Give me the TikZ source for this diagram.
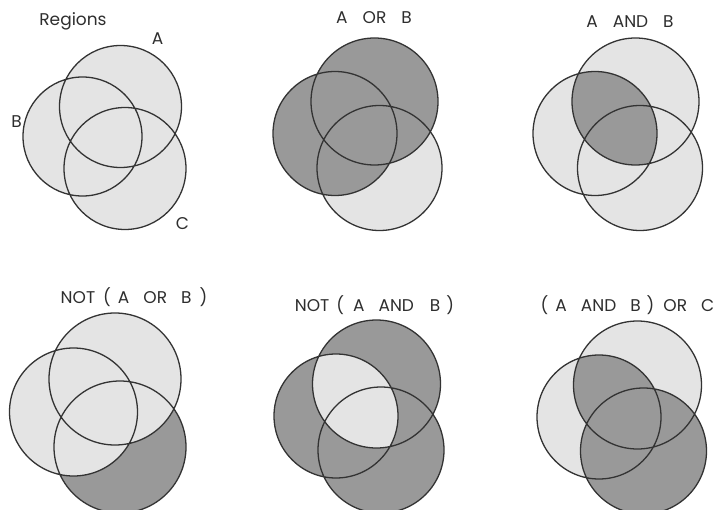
\documentclass[tikz,border=0pt]{standalone}
\usepackage{fontspec}
\setmainfont{Poppins}
\definecolor{lightg}{HTML}{E4E4E4}
\definecolor{darkg}{HTML}{999999}
\definecolor{edge}{HTML}{333333}
\definecolor{txt}{HTML}{2E2E2E}
\newcommand\gp[1]{\hspace{#1pt}}
\tikzset{
  outline/.style={draw=edge, line width=1.3pt, fill=none},
  lbl/.style={text=txt, font=\fontsize{17}{19}\selectfont, anchor=base, inner sep=0pt},
}
\begin{document}
\begin{tikzpicture}[x=1pt,y=-1pt]
\useasboundingbox (0,0) rectangle (722,510);
% ---------- Diagram 1: Regions ----------
\coordinate (A1) at (120.5,106.5); \coordinate (B1) at (82.5,136.5); \coordinate (C1) at (125,168.5);
\fill[lightg] (A1) circle[radius=61pt] (B1) circle[radius=59.5pt] (C1) circle[radius=61pt];
\draw[outline] (A1) circle[radius=61pt] (B1) circle[radius=59.5pt] (C1) circle[radius=61pt];
\node[lbl] (t1) at (73,26) {Regions};
\node[lbl] (la) at (157.5,45) {A};
\node[lbl] (lb) at (16.5,128) {B};
\node[lbl] (lc) at (182.5,230) {C};
% ---------- Diagram 2: A OR B ----------
\coordinate (A2) at (374.5,101.5); \coordinate (B2) at (335,133.5); \coordinate (C2) at (379.5,168);
\fill[lightg] (C2) circle[radius=62.5pt];
\fill[darkg] (A2) circle[radius=63.5pt] (B2) circle[radius=62pt];
\draw[outline] (A2) circle[radius=63.5pt] (B2) circle[radius=62pt] (C2) circle[radius=62.5pt];
\node[lbl] (t2) at (374,24) {A\gp{15}OR\gp{15}B};
% ---------- Diagram 3: A AND B ----------
\coordinate (A3) at (635.5,101.5); \coordinate (B3) at (595,133.5); \coordinate (C3) at (640,168);
\fill[lightg] (A3) circle[radius=63.5pt] (B3) circle[radius=62pt] (C3) circle[radius=62.5pt];
\begin{scope}
  \clip (A3) circle[radius=63.5pt];
  \fill[darkg] (B3) circle[radius=62pt];
\end{scope}
\draw[outline] (A3) circle[radius=63.5pt] (B3) circle[radius=62pt] (C3) circle[radius=62.5pt];
\node[lbl] (t3) at (630,28) {A\gp{15}AND\gp{15}B};
% ---------- Diagram 4: NOT ( A OR B ) ----------
\coordinate (A4) at (115,379); \coordinate (B4) at (73.5,412); \coordinate (C4) at (120,447);
\fill[darkg] (C4) circle[radius=66pt];
\fill[lightg] (A4) circle[radius=66pt] (B4) circle[radius=64pt];
\draw[outline] (A4) circle[radius=66pt] (B4) circle[radius=64pt] (C4) circle[radius=66pt];
\node[lbl] (t4) at (134,303) {NOT\gp{8}(\gp{7}A\gp{14}OR\gp{14}B\gp{8})};
% ---------- Diagram 5: NOT ( A AND B ) ----------
\coordinate (A5) at (376.5,384); \coordinate (B5) at (336,416); \coordinate (C5) at (381,450);
\fill[darkg] (A5) circle[radius=64pt] (B5) circle[radius=62pt] (C5) circle[radius=63pt];
\begin{scope}
  \clip (A5) circle[radius=64pt];
  \fill[lightg] (B5) circle[radius=62pt];
\end{scope}
\draw[outline] (A5) circle[radius=64pt] (B5) circle[radius=62pt] (C5) circle[radius=63pt];
\node[lbl] (t5) at (374.5,311) {NOT\gp{7}(\gp{9}A\gp{14}AND\gp{16}B\gp{6})};
% ---------- Diagram 6: ( A AND B ) OR C ----------
\coordinate (A6) at (637.5,385); \coordinate (B6) at (599,417); \coordinate (C6) at (643.5,451);
\fill[lightg] (A6) circle[radius=64pt] (B6) circle[radius=62pt];
\fill[darkg] (C6) circle[radius=63pt];
\begin{scope}
  \clip (A6) circle[radius=64pt];
  \fill[darkg] (B6) circle[radius=62pt];
\end{scope}
\draw[outline] (A6) circle[radius=64pt] (B6) circle[radius=62pt] (C6) circle[radius=63pt];
\node[lbl] (t6) at (627.5,311) {(\gp{7}A\gp{14}AND\gp{14}B\gp{6})\gp{9}OR\gp{14}C};
\end{tikzpicture}
\end{document}
